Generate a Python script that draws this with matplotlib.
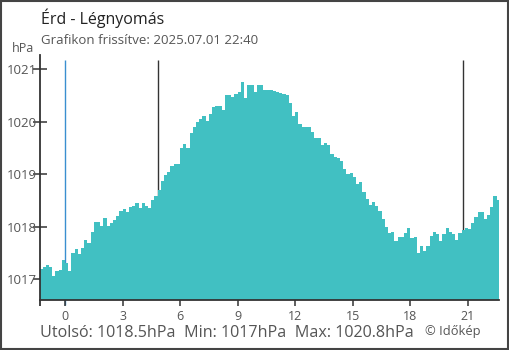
import matplotlib
matplotlib.use("Agg")
import matplotlib.pyplot as plt
import numpy as np

plt.rcParams['font.family'] = ['Open Sans', 'DejaVu Sans']

# air pressure (hPa), one value every 10 minutes from 22:40 the previous day
pressure = [
    1017.20, 1017.22, 1017.26, 1017.23, 1017.06, 1017.15, 1017.18, 1017.36, 1017.30, 1017.15,
    1017.49, 1017.58, 1017.48, 1017.60, 1017.75, 1017.68, 1017.90, 1018.09, 1018.09, 1018.02,
    1018.17, 1018.02, 1018.07, 1018.12, 1018.20, 1018.30, 1018.34, 1018.27, 1018.37, 1018.40,
    1018.45, 1018.35, 1018.45, 1018.40, 1018.36, 1018.50, 1018.58, 1018.70, 1018.86, 1018.98,
    1019.04, 1019.15, 1019.19, 1019.19, 1019.50, 1019.58, 1019.50, 1019.78, 1019.90, 1020.00,
    1020.05, 1020.10, 1020.01, 1020.15, 1020.28, 1020.30, 1020.30, 1020.23, 1020.50, 1020.50,
    1020.46, 1020.52, 1020.57, 1020.76, 1020.45, 1020.70, 1020.70, 1020.56, 1020.70, 1020.70,
    1020.61, 1020.60, 1020.60, 1020.59, 1020.57, 1020.55, 1020.52, 1020.51, 1020.35, 1020.10,
    1020.19, 1019.95, 1019.89, 1019.89, 1019.89, 1019.80, 1019.69, 1019.69, 1019.55, 1019.60,
    1019.55, 1019.39, 1019.33, 1019.30, 1019.25, 1019.10, 1019.00, 1019.02, 1018.94, 1018.82,
    1018.85, 1018.65, 1018.52, 1018.42, 1018.47, 1018.39, 1018.29, 1018.15, 1018.00, 1017.87,
    1017.90, 1017.72, 1017.81, 1017.81, 1017.88, 1017.98, 1017.78, 1017.81, 1017.50, 1017.62,
    1017.53, 1017.62, 1017.82, 1017.89, 1017.85, 1017.72, 1017.85, 1017.97, 1017.89, 1017.86,
    1017.75, 1017.87, 1017.93, 1017.97, 1017.95, 1018.07, 1018.18, 1018.27, 1018.28, 1018.14,
    1018.22, 1018.38, 1018.59, 1018.50,
]
start_hour = -4 / 3
end_hour = 22.62
midnight = 0
sun_lines = [4.84, 20.73]
xticks = [0, 3, 6, 9, 12, 15, 18, 21]
yticks = [1017, 1018, 1019, 1020, 1021]

hours = start_hour + np.arange(len(pressure)) / 6
x = np.append(hours, end_hour)
y = np.append(pressure, pressure[-1])

fig = plt.figure(figsize=(5.1, 3.5), dpi=100)
ax = fig.add_axes([40 / 510, 50 / 350, 459 / 510, 245 / 350])

ymin, ymax = 1016.6, 1021.27
ax.set_xlim(-1.3, end_hour)
ax.set_ylim(ymin, ymax)

ax.vlines(sun_lines, ymin, 1021.17, color='#333333', lw=1, zorder=1)
ax.vlines([midnight], ymin - 0.1, 1021.17, color='#3a8fd0', lw=1, zorder=1, clip_on=False)
ax.fill_between(x, ymin, y, step='post', color='#41c0c2', lw=0, zorder=2)

for s in ['top', 'right']:
    ax.spines[s].set_visible(False)
for s in ['left', 'bottom']:
    ax.spines[s].set_color('#333333')
    ax.spines[s].set_linewidth(1.3)
    ax.spines[s].set_zorder(3)

ax.set_xticks(xticks)
ax.set_xticklabels([str(t) for t in xticks])
ax.set_xticks([-1.3], minor=True)
ax.set_yticks(yticks)
ax.set_yticklabels([str(t) for t in yticks])
ax.tick_params(axis='x', direction='out', length=4.5, width=1.1, color='#333333',
               labelsize=9, labelcolor='#555555', pad=3)
ax.tick_params(axis='x', which='minor', direction='out', length=4.5, width=1.3, color='#333333')
ax.tick_params(axis='y', direction='inout', length=10, width=1.1, color='#333333',
               labelsize=9.5, labelcolor='#555555', pad=-3)

fig.text(41 / 510, 1 - 18 / 350, 'Érd - Légnyomás', fontsize=11.5, color='#222222', va='center')
fig.text(41 / 510, 1 - 41 / 350, 'Grafikon frissítve: 2025.07.01 22:40', fontsize=9.5,
         color='#555555', va='center')
fig.text(23 / 510, 1 - 49 / 350, 'hPa', fontsize=9, color='#555555', va='center', ha='center')
fig.text(40 / 510, 1 - 333 / 350,
         'Utolsó: 1018.5hPa  Min: 1017hPa  Max: 1020.8hPa',
         fontsize=11.6, color='#555555', va='center')
fig.text(425 / 510, 1 - 331 / 350, '© Időkép', fontsize=9.3, color='#555555', va='center')

fig.patches.append(plt.Rectangle((0.001, 0.002), 0.996, 0.995, transform=fig.transFigure,
                                 fill=False, edgecolor='#444444', lw=1.5))

fig.savefig('out.png', dpi=100)
